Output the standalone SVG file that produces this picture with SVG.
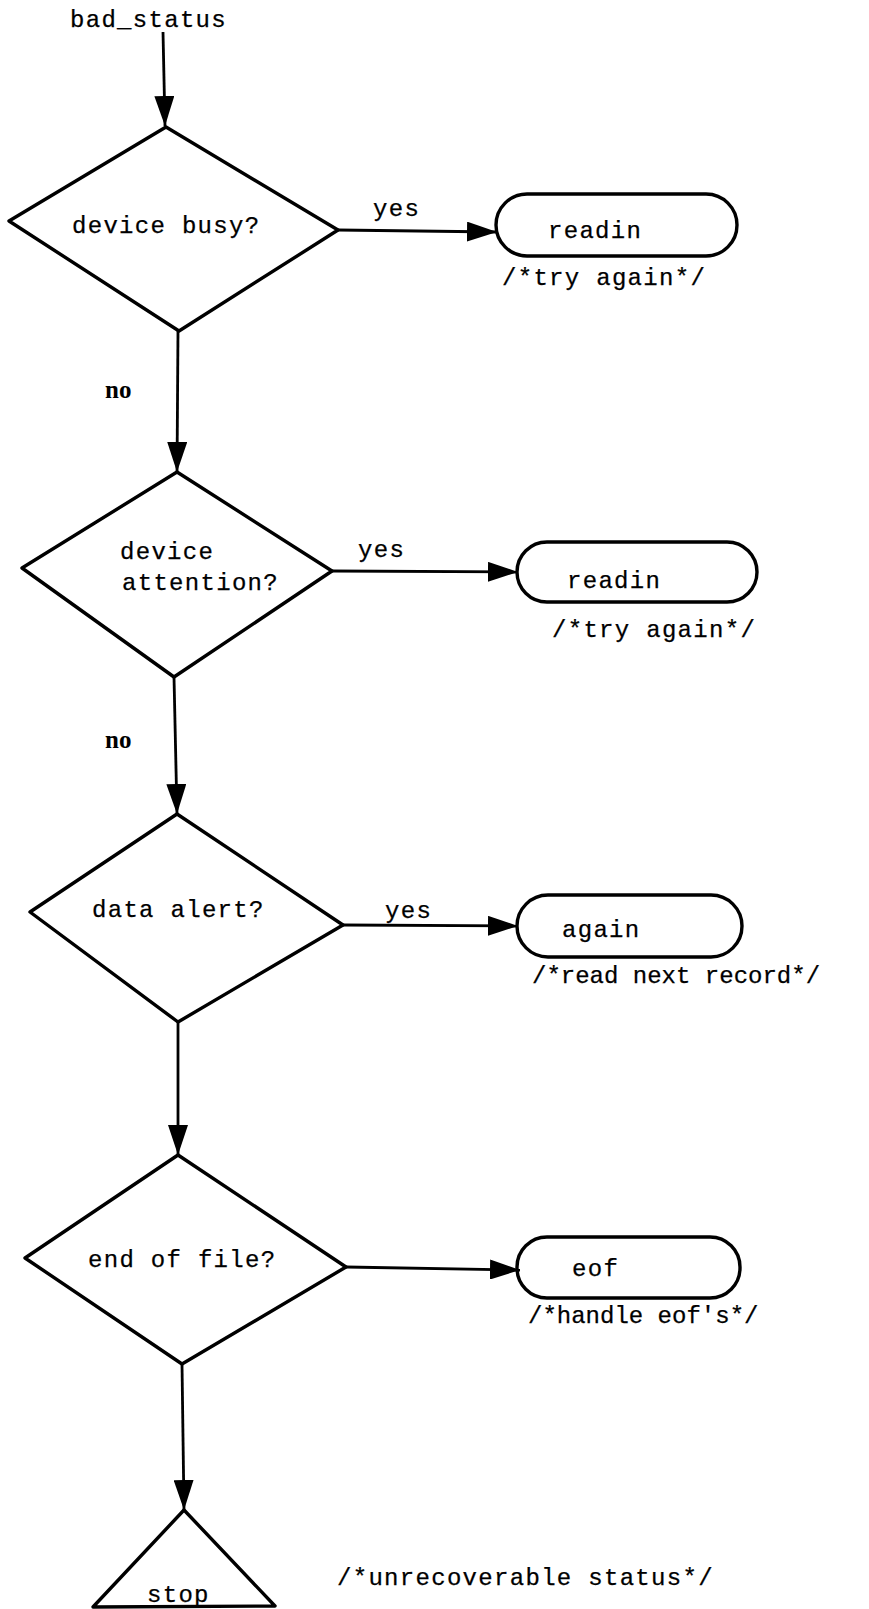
<svg xmlns="http://www.w3.org/2000/svg" width="869" height="1609" viewBox="0 0 869 1609">
<style>
.bg{fill:#ffffff}
.shape{fill:none;stroke:#000;stroke-width:3.4;stroke-linejoin:round}
.edge{fill:none;stroke:#000;stroke-width:2.8}
.t{font-family:"Liberation Mono","Courier New",monospace;font-size:24px;letter-spacing:1.3px;fill:#000;stroke:#000;stroke-width:0.25}
.s{letter-spacing:0px}
.no{font-family:"Liberation Serif","Times New Roman",serif;font-weight:bold;font-size:25px;fill:#000}
</style>
<defs>
<marker id="arr" viewBox="0 0 30 20" refX="30" refY="10" markerWidth="30" markerHeight="20" markerUnits="userSpaceOnUse" orient="auto">
<path d="M0,0 L30,10 L0,20 Z" fill="#000"/>
</marker>
</defs>
<rect class="bg" x="0" y="0" width="869" height="1609"/>
<g id="connectors">
<line class="edge" x1="163" y1="32" x2="165" y2="126" marker-end="url(#arr)"/>
<line class="edge" x1="338" y1="230" x2="497" y2="232" marker-end="url(#arr)"/>
<line class="edge" x1="178" y1="331" x2="177" y2="472" marker-end="url(#arr)"/>
<line class="edge" x1="332" y1="571" x2="518" y2="572" marker-end="url(#arr)"/>
<line class="edge" x1="174" y1="677" x2="177" y2="814" marker-end="url(#arr)"/>
<line class="edge" x1="343" y1="925" x2="518" y2="926" marker-end="url(#arr)"/>
<line class="edge" x1="178" y1="1022" x2="178" y2="1155" marker-end="url(#arr)"/>
<line class="edge" x1="346" y1="1267" x2="520" y2="1270" marker-end="url(#arr)"/>
<line class="edge" x1="182" y1="1364" x2="184" y2="1510" marker-end="url(#arr)"/>
<text class="t" x="373" y="216">yes</text>
<text class="no" x="105" y="398">no</text>
<text class="t" x="358" y="557">yes</text>
<text class="no" x="105" y="748">no</text>
<text class="t" x="385" y="918">yes</text>
</g>
<g id="start">
<text class="t" x="70" y="27">bad_status</text>
</g>
<g id="d1">
<polygon class="shape" points="166,127 338,230 179,331 9,221"/>
<text class="t" x="72" y="233">device busy?</text>
</g>
<g id="b1">
<rect class="shape" x="496" y="194" width="241" height="62" rx="31" ry="31"/>
<text class="t" x="548" y="238">readin</text>
<text class="t" x="502" y="285">/*try again*/</text>
</g>
<g id="d2">
<polygon class="shape" points="177,472 332,571 174,677 22,568"/>
<text class="t" x="120" y="559">device</text>
<text class="t" x="122" y="590">attention?</text>
</g>
<g id="b2">
<rect class="shape" x="517" y="542" width="240" height="60" rx="30" ry="30"/>
<text class="t" x="567" y="588">readin</text>
<text class="t" x="552" y="637">/*try again*/</text>
</g>
<g id="d3">
<polygon class="shape" points="177,814 343,925 178,1022 30,912"/>
<text class="t" x="92" y="917">data alert?</text>
</g>
<g id="b3">
<rect class="shape" x="517" y="895" width="225" height="62" rx="31" ry="31"/>
<text class="t" x="562" y="937">again</text>
<text class="t s" x="532" y="983">/*read next record*/</text>
</g>
<g id="d4">
<polygon class="shape" points="178,1155 346,1267 182,1364 25,1258"/>
<text class="t" x="88" y="1267">end of file?</text>
</g>
<g id="b4">
<rect class="shape" x="517" y="1237" width="223" height="61" rx="30" ry="30"/>
<text class="t" x="572" y="1276">eof</text>
<text class="t s" x="528" y="1323">/*handle eof's*/</text>
</g>
<g id="stop">
<polygon class="shape" points="184,1510 275,1606 93,1607"/>
<text class="t" x="147" y="1602">stop</text>
</g>
<g id="note">
<text class="t" x="337" y="1585">/*unrecoverable status*/</text>
</g>
</svg>
